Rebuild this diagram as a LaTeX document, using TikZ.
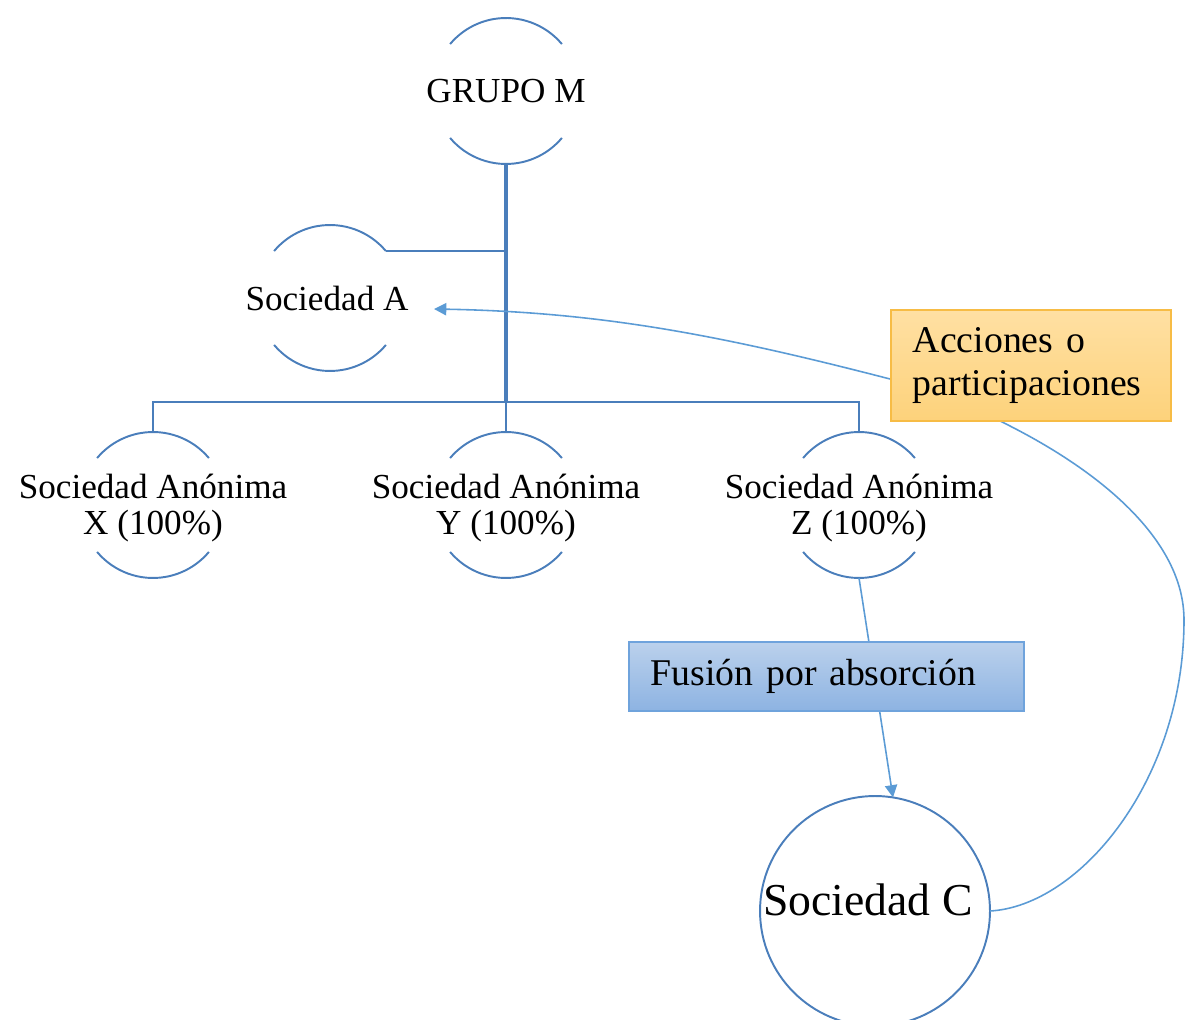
\documentclass[tikz,border=0pt]{standalone}
\usepackage{fontspec}
\setmainfont{Liberation Serif}
\usetikzlibrary{arrows.meta,calc}

\definecolor{treeblue}{HTML}{4A7EBB}
\definecolor{linkblue}{HTML}{5B9BD5}
\definecolor{boxblueT}{HTML}{BBD1EC}
\definecolor{boxblueB}{HTML}{8DB3E2}
\definecolor{boxblueE}{HTML}{6FA3DC}
\definecolor{boxorT}{HTML}{FFE0A3}
\definecolor{boxorB}{HTML}{FDD27B}
\definecolor{boxorE}{HTML}{F7BC45}

% open circle: only its top and bottom arcs are drawn
\newcommand\ringarcs[2]{%
  \draw[arcline] (#1.40) arc[start angle=40,end angle=140,radius=#2];
  \draw[arcline] (#1.220) arc[start angle=220,end angle=320,radius=#2];}

\begin{document}
\begin{tikzpicture}[x=0.02cm,y=-0.02cm,
  ring/.style={circle,draw=none,inner sep=0pt,outer sep=0pt,minimum size=2.92cm},
  arcline/.style={draw=treeblue,line width=1.1pt},
  tree/.style={draw=treeblue,line width=1.4pt},
  trunk/.style={draw=treeblue,line width=2.4pt},
  lbl/.style={font=\fontsize{20}{20}\selectfont,align=center,inner sep=0pt},
  link/.style={draw=linkblue,line width=0.9pt,-{Triangle[length=7pt,width=7pt]}},
  fusbox/.style={draw=boxblueE,line width=1pt,top color=boxblueT,bottom color=boxblueB,
    minimum width=7.9cm,minimum height=1.38cm,inner xsep=0.44cm,inner ysep=0pt,
    text width=7.02cm,align=left,font=\fontsize{21.5}{24}\selectfont},
  accbox/.style={draw=boxorE,line width=1pt,top color=boxorT,bottom color=boxorB,
    minimum width=5.6cm,minimum height=2.22cm,inner xsep=0.44cm,inner ysep=0pt,
    text width=4.72cm,align=left,font=\fontsize{21.5}{24.4}\selectfont}]

\useasboundingbox (0,0) rectangle (1187,1020);

% companies
\node[ring] (gm) at (506,91) {};
\node[lbl] (gmT) at (gm) {GRUPO M};
\node[ring] (sa) at (330,298) {};
\node[lbl] (saT) at (327,298) {Sociedad A};
\node[ring] (x) at (153,505) {};
\node[lbl] (xT) at (153,508) {Sociedad Anónima\\X (100\%)};
\node[ring] (y) at (506,505) {};
\node[lbl] (yT) at (506,508) {Sociedad Anónima\\Y (100\%)};
\node[ring] (z) at (859,505) {};
\node[lbl] (zT) at (859,508) {Sociedad Anónima\\Z (100\%)};
\node[circle,draw=treeblue,line width=1.1pt,minimum size=4.6cm,inner sep=0pt,outer sep=0pt] (c) at (875,911) {};
\node[lbl,font=\fontsize{26}{26}\selectfont] (cT) at (868,900) {Sociedad C};
\coordinate (aIn) at (434,309);

\ringarcs{gm}{1.46cm}
\ringarcs{sa}{1.46cm}
\ringarcs{x}{1.46cm}
\ringarcs{y}{1.46cm}
\ringarcs{z}{1.46cm}

% ownership tree
\draw[trunk] (gm.south) -- ($(y.north)+(0,-30)$);
\draw[tree] (sa.40) -- (sa.40 -| gm.south);
\draw[tree] (x.north) -- ++(0,-30) -| (z.north);
\draw[tree] (y.north) -- ++(0,-30);

% merger and transfer of shares
\draw[link] (z.south) -- (c.81);
\draw[link] (c.east) .. controls (1080,906) and (1184,780) .. (1184,620)
  .. controls (1184,540) and (1100,470) .. (1000,421) -- (890,379)
  .. controls (720,335) and (600,312) .. (aIn);

% captions
\node[fusbox,anchor=north west] (fus) at (628,641) {Fusión por absorción};
\node[accbox,anchor=north west] (acc) at (890,309) {Acciones o\\participaciones};
\end{tikzpicture}
\end{document}
